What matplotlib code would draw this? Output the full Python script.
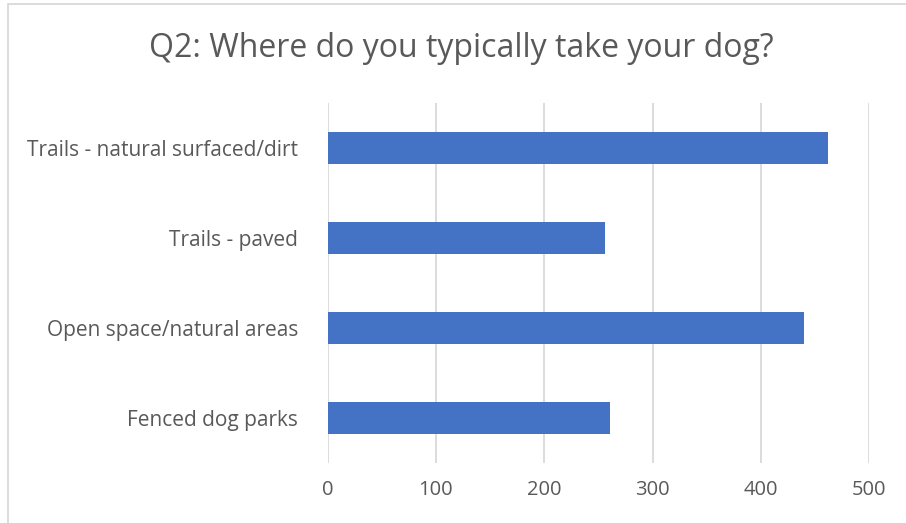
import matplotlib
matplotlib.use("Agg")
import matplotlib.pyplot as plt
from matplotlib.patches import Rectangle

# survey answers, top to bottom as shown
places = ["Trails - natural surfaced/dirt", "Trails - paved",
          "Open space/natural areas", "Fenced dog parks"]
counts = [462, 256, 440, 261]
xticks = [0, 100, 200, 300, 400, 500]

plt.rcParams['font.family'] = ['Open Sans', 'DejaVu Sans']
grey = '#595959'

fig = plt.figure(figsize=(9.06, 5.23), dpi=100)
ax = fig.add_axes([0.3615, 0.1147, 0.5981, 0.6883])

ypos = list(range(len(places)))[::-1]
ax.barh(ypos, counts, height=0.35, color='#4472C4', zorder=3)

ax.set_xlim(0, 500)
ax.set_ylim(-0.5, 3.5)
ax.set_xticks(xticks)
ax.set_xticklabels([str(t) for t in xticks])
ax.set_yticks(ypos)
ax.set_yticklabels(places)
ax.tick_params(axis='both', length=0, colors=grey)
ax.tick_params(axis='x', pad=12, labelsize=14.5)
ax.tick_params(axis='y', pad=21, labelsize=15)
ax.xaxis.grid(True, color='#D9D9D9', linewidth=1.3, zorder=0)
for s in ax.spines.values():
    s.set_visible(False)

fig.text(0.509, 0.891, "Q2: Where do you typically take your dog?",
         ha='center', va='baseline', fontsize=23, color=grey)

# outer chart border
fig.patches.append(Rectangle((0.009, -0.01), 1.0, 1.003, transform=fig.transFigure,
                             fill=False, edgecolor='#D9D9D9', linewidth=1.3))

fig.savefig("out.png", dpi=100)
